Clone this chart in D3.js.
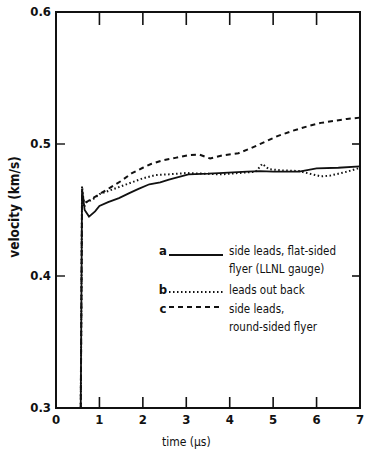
<!DOCTYPE html>
<html>
<head>
<meta charset="utf-8">
<script src="https://cdn.jsdelivr.net/npm/d3@7"></script>
<style>
  body { margin: 0; background: #fff; }
  svg text { font-family: "DejaVu Sans Condensed", "Liberation Sans Narrow", sans-serif; font-stretch: condensed; fill: #111; }
</style>
</head>
<body>
<svg id="chart"></svg>
<script>
// curve a: side leads, flat-sided flyer (LLNL gauge) - solid
const timeA = [0.57, 0.6, 0.66, 0.76, 0.9, 1.0, 1.2, 1.45, 1.7, 1.9, 2.15, 2.4, 2.6, 3.05, 3.5, 3.75, 4.4, 4.7, 5.0, 5.6, 6.0, 6.5, 7.0];
const velA = [0.3, 0.466, 0.45, 0.445, 0.449, 0.453, 0.456, 0.459, 0.463, 0.466, 0.4695, 0.471, 0.473, 0.477, 0.4775, 0.478, 0.479, 0.4795, 0.479, 0.479, 0.4815, 0.482, 0.483];

// curve b: leads out back - dotted
const timeB = [0.57, 0.6, 0.65, 0.7, 0.85, 1.0, 1.25, 1.5, 1.75, 2.0, 2.3, 2.6, 3.0, 3.4, 3.8, 4.2, 4.6, 4.75, 4.9, 5.2, 5.6, 5.9, 6.1, 6.3, 6.5, 6.7, 7.0];
const velB = [0.3, 0.468, 0.452, 0.456, 0.458, 0.462, 0.465, 0.468, 0.471, 0.474, 0.4765, 0.477, 0.478, 0.4775, 0.477, 0.478, 0.479, 0.485, 0.481, 0.48, 0.4795, 0.477, 0.4755, 0.476, 0.4775, 0.479, 0.482];

// curve c: side leads, round-sided flyer - dashed
const timeC = [0.57, 0.6, 0.65, 0.75, 1.0, 1.25, 1.5, 1.75, 2.0, 2.2, 2.45, 2.75, 3.05, 3.3, 3.55, 3.85, 4.2, 4.5, 4.8, 5.1, 5.45, 5.8, 6.1, 6.4, 6.7, 7.0];
const velC = [0.3, 0.462, 0.455, 0.457, 0.462, 0.467, 0.472, 0.478, 0.482, 0.485, 0.4875, 0.4895, 0.4915, 0.492, 0.489, 0.4915, 0.493, 0.497, 0.5015, 0.506, 0.51, 0.5135, 0.516, 0.5175, 0.519, 0.520];

const xTicks = [0, 1, 2, 3, 4, 5, 6, 7];
const yTicks = [0.3, 0.4, 0.5, 0.6];

const legendKeys = ['a', 'b', 'c'];
const legendLines = [
    ['side leads, flat-sided', 'flyer (LLNL gauge)'],
    ['leads out back'],
    ['side leads,', 'round-sided flyer']
];

const width = 367, height = 458;
const margin = { top: 12, right: 7, bottom: 50, left: 56 };
const innerW = width - margin.left - margin.right;
const innerH = height - margin.top - margin.bottom;

const svg = d3.select('#chart')
    .attr('width', width)
    .attr('height', height);

const g = svg.append('g')
    .attr('transform', `translate(${margin.left},${margin.top})`);

const x = d3.scaleLinear().domain([0, 7]).range([0, innerW]);
const y = d3.scaleLinear().domain([0.3, 0.6]).range([innerH, 0]);

// frame
g.append('rect')
    .attr('width', innerW)
    .attr('height', innerH)
    .attr('fill', 'none')
    .attr('stroke', '#111')
    .attr('stroke-width', 2);

// inward ticks top and bottom
const innerX = xTicks.filter(d => d > 0 && d < 7);
g.selectAll('.tick-top')
    .data(innerX)
    .join('line')
    .attr('x1', d => x(d)).attr('x2', d => x(d))
    .attr('y1', 0).attr('y2', 13)
    .attr('stroke', '#111').attr('stroke-width', 1.6);

g.selectAll('.tick-bottom')
    .data(innerX)
    .join('line')
    .attr('x1', d => x(d)).attr('x2', d => x(d))
    .attr('y1', innerH).attr('y2', innerH - 11)
    .attr('stroke', '#111').attr('stroke-width', 1.6);

const innerY = yTicks.filter(d => d > 0.3 && d < 0.6);
g.selectAll('.tick-left')
    .data(innerY)
    .join('line')
    .attr('x1', 0).attr('x2', 9)
    .attr('y1', d => y(d)).attr('y2', d => y(d))
    .attr('stroke', '#111').attr('stroke-width', 1.4);

g.selectAll('.tick-right')
    .data(innerY)
    .join('line')
    .attr('x1', innerW).attr('x2', innerW - 8)
    .attr('y1', d => y(d)).attr('y2', d => y(d))
    .attr('stroke', '#111').attr('stroke-width', 1.6);

// tick labels
g.selectAll('.xlab')
    .data(xTicks)
    .join('text')
    .attr('x', d => x(d))
    .attr('y', innerH + 16)
    .attr('text-anchor', 'middle')
    .style('font-size', '13px')
    .style('font-weight', 'bold')
    .text(d => d);

g.selectAll('.ylab')
    .data(yTicks)
    .join('text')
    .attr('x', -5)
    .attr('y', d => y(d) + 4)
    .attr('text-anchor', 'end')
    .style('font-size', '13px')
    .style('font-weight', 'bold')
    .text(d => d.toFixed(1));

// axis titles
svg.append('text')
    .attr('x', margin.left + x(3.0))
    .attr('y', 446)
    .attr('text-anchor', 'middle')
    .style('font-size', '12px')
    .text('time (\u00b5s)');

svg.append('text')
    .attr('transform', `translate(19,${207}) rotate(-90)`)
    .attr('text-anchor', 'middle')
    .style('font-size', '13.5px')
    .style('font-weight', 'bold')
    .text('velocity (km/s)');

// curves
const series = [
    { t: timeA, v: velA, dash: null, w: 1.8 },
    { t: timeB, v: velB, dash: '1.5,2.5', w: 2 },
    { t: timeC, v: velC, dash: '5,4', w: 2 }
];

const line = d3.line()
    .x(d => x(d[0]))
    .y(d => y(d[1]));

g.selectAll('.curve')
    .data(series)
    .join('path')
    .attr('d', s => line(s.t.map((t, i) => [t, s.v[i]])))
    .attr('fill', 'none')
    .attr('stroke', '#111')
    .attr('stroke-width', s => s.w)
    .attr('stroke-dasharray', s => s.dash);

// legend
const legY = [251, 290, 309];
const leg = svg.append('g');
legendKeys.forEach((k, i) => {
    leg.append('text')
        .attr('x', 163)
        .attr('y', legY[i] + 4)
        .attr('text-anchor', 'middle')
        .style('font-size', '13px')
        .style('font-weight', 'bold')
        .text(k);
    leg.append('line')
        .attr('x1', 169).attr('x2', 223)
        .attr('y1', legY[i] + (i === 0 ? 4 : i === 1 ? 2 : -2))
        .attr('y2', legY[i] + (i === 0 ? 4 : i === 1 ? 2 : -2))
        .attr('stroke', '#111')
        .attr('stroke-width', series[i].w)
        .attr('stroke-dasharray', series[i].dash);
    legendLines[i].forEach((txt, j) => {
        leg.append('text')
            .attr('x', 229)
            .attr('y', legY[i] + 4 + j * 18)
            .style('font-size', '11.5px')
            .text(txt);
    });
});
</script>
</body>
</html>
